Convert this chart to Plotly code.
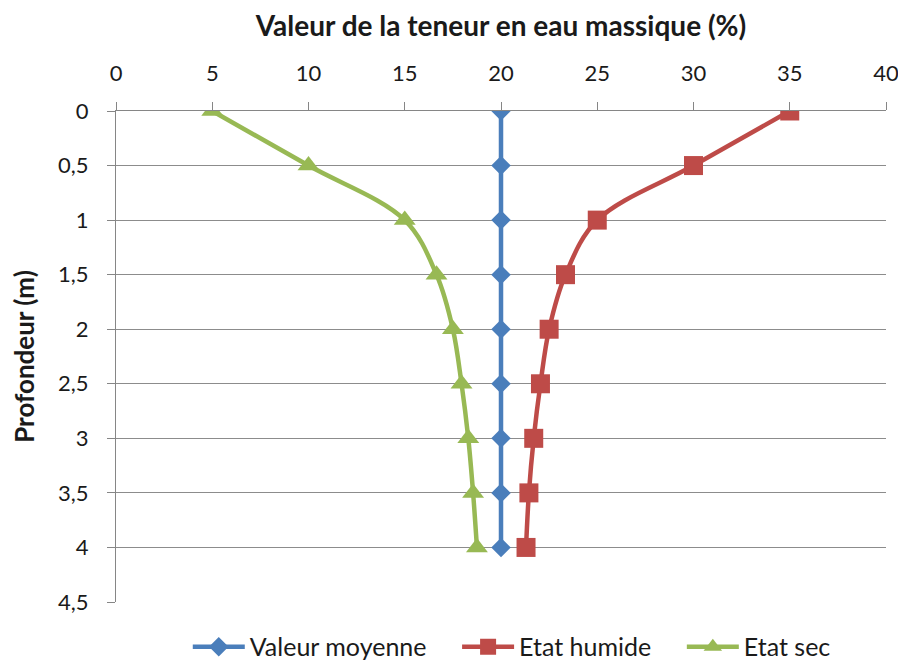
import plotly.graph_objects as go

# Profondeur (m)
profondeur = [0, 0.5, 1, 1.5, 2, 2.5, 3, 3.5, 4]

# Teneur en eau massique (%)
valeur_moyenne = [20, 20, 20, 20, 20, 20, 20, 20, 20]
etat_humide = [35, 30, 25, 23.35, 22.5, 22.05, 21.7, 21.45, 21.3]
etat_sec = [5, 10, 15, 16.65, 17.5, 17.95, 18.3, 18.55, 18.75]

x_ticks = [0, 5, 10, 15, 20, 25, 30, 35, 40]
y_ticks = [0, 0.5, 1, 1.5, 2, 2.5, 3, 3.5, 4, 4.5]

FONT = "Lato, sans-serif"
AXIS_GREY = "#868686"
NB = "\u00a0"  # espaces insécables pour aérer la légende

fig = go.Figure()

fig.add_trace(go.Scatter(
    x=valeur_moyenne, y=profondeur, name="Valeur moyenne" + NB * 4,
    mode="lines+markers", line=dict(color="#4A7EBB", width=4.5, shape="spline"),
    marker=dict(symbol="diamond", size=15, color="#4A7EBB"),
))
fig.add_trace(go.Scatter(
    x=etat_humide, y=profondeur, name="Etat humide" + NB * 4,
    mode="lines+markers", line=dict(color="#BE4B48", width=4.5, shape="spline"),
    marker=dict(symbol="square", size=19, color="#BE4B48"),
))
fig.add_trace(go.Scatter(
    x=etat_sec, y=profondeur, name="Etat sec",
    mode="lines+markers", line=dict(color="#98B954", width=4.5, shape="spline"),
    marker=dict(symbol="triangle-up", size=19, color="#98B954"),
))

# la page ajoute ~8 px de marge au body : marges compensées
fig.update_layout(
    width=906, height=667,
    paper_bgcolor="white", plot_bgcolor="white",
    margin=dict(l=108, r=28, t=103, b=73),
    separators=", ",
    font=dict(family=FONT, size=22, color="#1a1a1a"),
    showlegend=True,
    legend=dict(
        orientation="h", x=0.514, xanchor="center",
        yref="container", y=0.042, yanchor="middle",
        font=dict(family=FONT, size=25), itemwidth=52, traceorder="normal",
    ),
    xaxis=dict(
        side="top", range=[0, 40], tickvals=x_ticks, automargin=False,
        showgrid=False, zeroline=False,
        showline=True, linecolor=AXIS_GREY, linewidth=1,
        ticks="outside", ticklen=8, tickcolor=AXIS_GREY,
        ticklabelstandoff=12,
        tickfont=dict(size=22),
        title=dict(text="<b>Valeur de la teneur en eau massique (%)</b>",
                   font=dict(size=28), standoff=28),
    ),
    yaxis=dict(
        range=[4.5, 0], tickvals=y_ticks, automargin=False,
        showgrid=True, gridcolor="#8C8C8C", gridwidth=1, zeroline=False,
        showline=True, linecolor=AXIS_GREY, linewidth=1,
        ticks="outside", ticklen=8, tickcolor=AXIS_GREY,
        ticklabelstandoff=14,
        tickfont=dict(size=22),
        title=dict(text="<b>Profondeur (m)</b>", font=dict(size=26), standoff=30),
    ),
)

fig.write_html("out.html")
